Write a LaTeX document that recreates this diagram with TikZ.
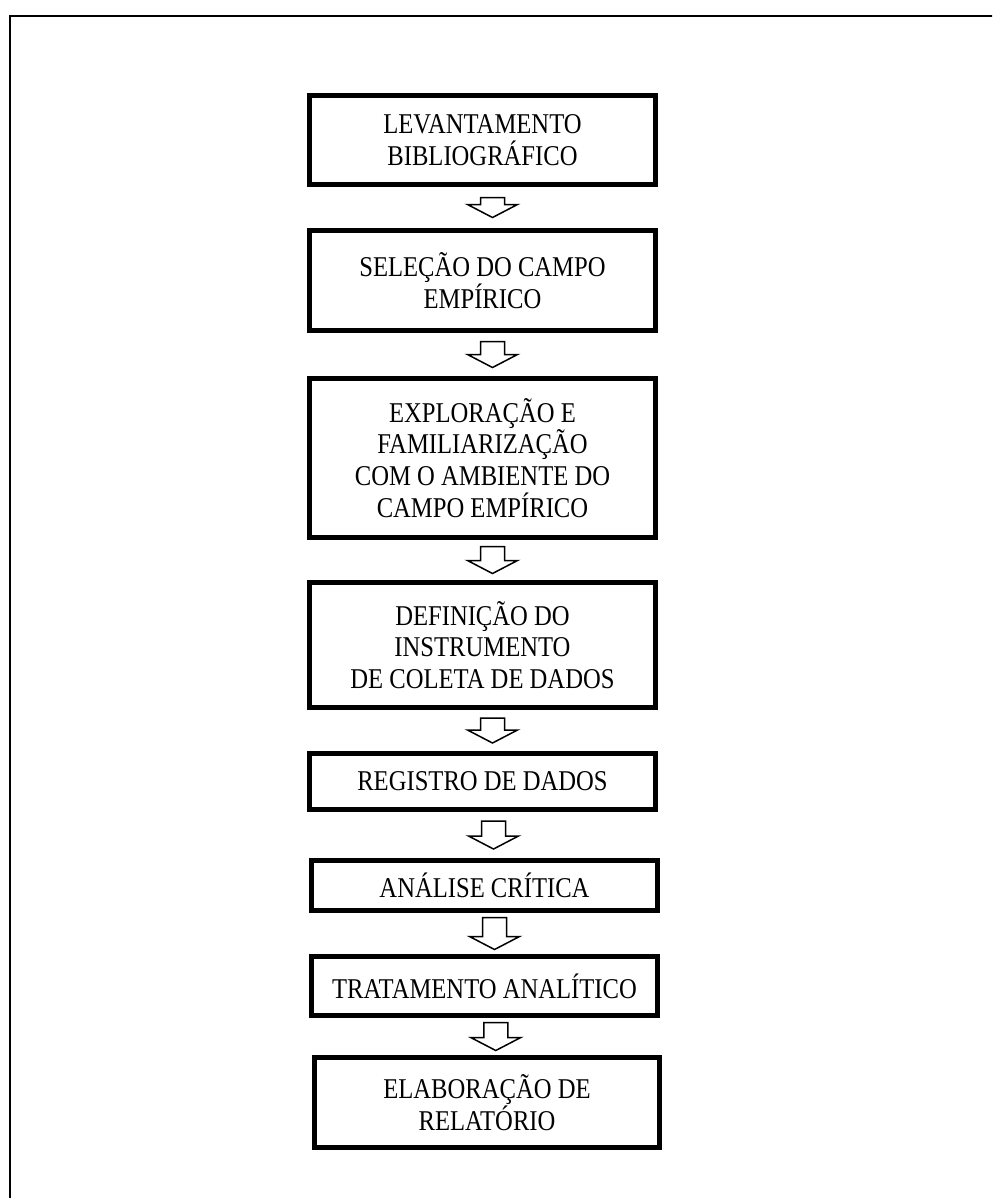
\documentclass[tikz,border=0pt]{standalone}
\usepackage{fontspec}
\setmainfont{Liberation Serif}
\newfontfamily\caixafont[FakeStretch=0.86]{Liberation Serif}

\tikzset{
  caixa/.style={draw,line width=0.1cm,minimum width=6.92cm,inner sep=0pt,
    align=center,font=\caixafont\fontsize{16.3}{18.1}\selectfont},
  seta/.style={draw,line width=0.03cm,fill=white,line join=miter}
}

\begin{document}
\begin{tikzpicture}[x=0.02cm,y=-0.02cm]
  \useasboundingbox (0,0) rectangle (992,1198);
  \clip (0,0) rectangle (992,1198);
  \draw[line width=0.04cm] (10,16) rectangle (1100,1400);

  \node[caixa,minimum height=1.78cm] (lev) at (482.5,140) {LEVANTAMENTO\\BIBLIOGRÁFICO};
  \node[caixa,minimum height=2.0cm]  (sel) at (482.5,280.5) {SELEÇÃO DO CAMPO\\EMPÍRICO};
  \node[caixa,minimum height=3.18cm] (exp) at (482.5,458) {EXPLORAÇÃO E\\FAMILIARIZAÇÃO\\COM O AMBIENTE DO\\CAMPO EMPÍRICO};
  \node[caixa,minimum height=2.5cm]  (def) at (482.5,645) {DEFINIÇÃO DO\\INSTRUMENTO\\DE COLETA DE DADOS};
  \node[caixa,minimum height=1.12cm] (reg) at (482.5,781.5) {REGISTRO DE DADOS};
  \node[caixa,minimum height=1.0cm]  (ana) at (484.5,885.5) {ANÁLISE CRÍTICA};
  \node[caixa,minimum height=1.18cm] (tra) at (484.5,986) {TRATAMENTO ANALÍTICO};
  \node[caixa,minimum height=1.8cm,minimum width=6.9cm] (ela) at (487,1102.5) {ELABORAÇÃO DE\\RELATÓRIO};

  % setas vazadas entre as caixas
  \foreach \a/\b/\l in {lev/sel/20,sel/exp/26,exp/def/27,def/reg/25,reg/ana/28,ana/tra/32,tra/ela/28} {
    \path (\a.south) -- (\b.north) coordinate[pos=.5] (meio);
    \draw[seta] (meio) ++(-2,-\l/2) -- ++(24,0) -- ++(0,\l-13) -- ++(13,0)
      -- ++(-25,13) -- ++(-25,-13) -- ++(13,0) -- cycle;
  }
\end{tikzpicture}
\end{document}
